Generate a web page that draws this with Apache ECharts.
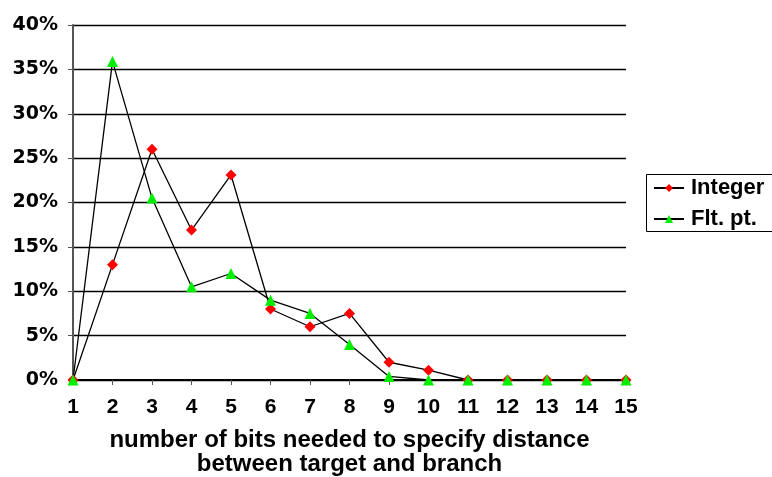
<!DOCTYPE html>
<html>
<head>
<meta charset="utf-8">
<script src="https://cdn.jsdelivr.net/npm/echarts@6/dist/echarts.min.js"></script>
<style>
  html, body { margin: 0; padding: 0; background: #fff; }
  #chart { width: 772px; height: 477px; }
</style>
</head>
<body>
<div id="chart"></div>
<script>
const categories = ['1','2','3','4','5','6','7','8','9','10','11','12','13','14','15']
const integerValues = [0, 13, 26, 16.9, 23.1, 8, 6, 7.5, 2, 1.1, 0, 0, 0, 0, 0]
const fltValues = [0, 35.9, 20.5, 10.5, 12, 9, 7.5, 4, 0.4, 0, 0, 0, 0, 0, 0]

const font = 'Liberation Sans, Arial, sans-serif'
const chart = echarts.init(document.getElementById('chart'))

const option = {
  animation: false,
  grid: { left: 73, right: 146, top: 25, bottom: 97, outerBoundsMode: 'none' },
  // legend frame runs off the right edge, like the original
  graphic: [{
    type: 'rect',
    shape: { x: 646.5, y: 174.5, width: 140, height: 57 },
    style: { fill: 'none', stroke: '#000', lineWidth: 1 }
  }],
  legend: {
    left: 646,
    top: 174,
    orient: 'vertical',
    padding: [3, 16, 3, 7],
    itemGap: 9,
    itemWidth: 30,
    itemHeight: 10,
    textStyle: { fontFamily: font, fontWeight: 'bold', fontSize: 22, color: '#000', padding: [0, 0, 0, 2] },
    data: ['Integer', 'Flt. pt.']
  },
  xAxis: {
    type: 'category',
    data: categories,
    boundaryGap: false,
    name: 'number of bits needed to specify distance\nbetween target and branch',
    nameLocation: 'middle',
    nameGap: 48,
    nameTextStyle: { fontFamily: font, fontWeight: 'bold', fontSize: 24, color: '#000', lineHeight: 24 },
    axisLine: { lineStyle: { color: '#000', width: 2 } },
    axisTick: { show: true, alignWithLabel: true, length: 5, lineStyle: { color: '#555' } },
    axisLabel: { fontFamily: font, fontWeight: 'bold', fontSize: 21, color: '#000', margin: 17 },
    splitLine: { show: false }
  },
  yAxis: {
    type: 'value',
    min: 0,
    max: 40,
    interval: 5,
    axisLine: { show: true, lineStyle: { color: '#555', width: 2 } },
    axisTick: { show: true, length: 5, lineStyle: { color: '#555' } },
    axisLabel: { fontFamily: 'DejaVu Sans, sans-serif', fontWeight: 'bold', fontSize: 19, color: '#000', margin: 15, formatter: '{value}%' },
    splitLine: { show: true, lineStyle: { color: '#000', width: 1.3 } }
  },
  series: [
    {
      name: 'Integer',
      type: 'line',
      data: integerValues,
      symbol: 'diamond',
      symbolSize: 11,
      lineStyle: { color: '#000', width: 1.3 },
      itemStyle: { color: '#ff0000', borderWidth: 0 }
    },
    {
      name: 'Flt. pt.',
      type: 'line',
      data: fltValues,
      symbol: 'triangle',
      symbolSize: 11,
      lineStyle: { color: '#000', width: 1.3 },
      itemStyle: { color: '#00ee00', borderWidth: 0 }
    }
  ]
}
chart.setOption(option)
</script>
</body>
</html>
